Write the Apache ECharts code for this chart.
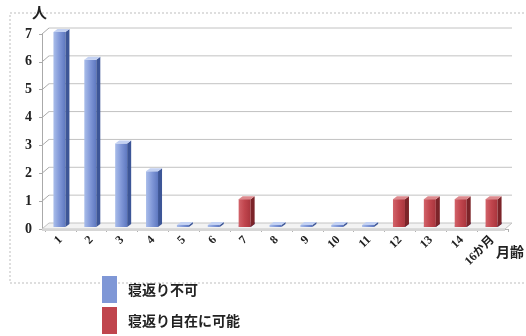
<!DOCTYPE html>
<html>
<head>
<meta charset="utf-8">
<script src="https://cdn.jsdelivr.net/npm/echarts@6/dist/echarts.min.js"></script>
<style>
  html, body { margin: 0; padding: 0; background: #ffffff; }
  #chart { width: 526px; height: 336px; }
</style>
</head>
<body>
<div id="chart"></div>
<script>
// Age in months and number of infants in each group
const categories = ['1', '2', '3', '4', '5', '6', '7', '8', '9', '10', '11', '12', '13', '14', '16か月'];
const cannotRoll = [7, 6, 3, 2, 0, 0, 0, 0, 0, 0, 0, 0, 0, 0, 0];
const canRoll    = [0, 0, 0, 0, 0, 0, 1, 0, 0, 0, 0, 1, 1, 1, 1];
const yTicks = [0, 1, 2, 3, 4, 5, 6, 7];

const NAME_BLUE = '寝返り不可';
const NAME_RED = '寝返り自在に可能';

const serif = "'Liberation Serif', 'DejaVu Serif', 'Noto Sans CJK JP', serif";
const cjk = "'Noto Sans CJK JP', sans-serif";

// depth of the back wall relative to the front plane
const DEPTH_X = 7, DEPTH_Y = 6;

const chart = echarts.init(document.getElementById('chart'), null, { renderer: 'canvas' });

// back-wall grid lines, their slanted tick connectors and the floor slab
function renderFrame(params, api) {
  const v = api.value(1);
  const cs = params.coordSys;
  const y = api.coord([0, v])[1];
  const left = cs.x - 3, right = cs.x + cs.width - 3;
  if (v === 0) {
    return {
      type: 'group',
      children: [
        {
          type: 'polygon',
          shape: { points: [[left, y], [right, y], [right + DEPTH_X, y - DEPTH_Y], [left + DEPTH_X, y - DEPTH_Y]] },
          style: { fill: '#f3f3f3', stroke: '#c4c4c4', lineWidth: 1 }
        },
        {
          type: 'rect',
          shape: { x: left, y: y, width: right - left, height: 2 },
          style: { fill: '#d6d6d6' }
        }
      ]
    };
  }
  return {
    type: 'group',
    children: [
      {
        type: 'line',
        shape: { x1: left, y1: y, x2: left + DEPTH_X, y2: y - DEPTH_Y },
        style: { stroke: '#aaaaaa', lineWidth: 1 }
      },
      {
        type: 'line',
        shape: { x1: left + DEPTH_X, y1: y - DEPTH_Y, x2: right + DEPTH_X, y2: y - DEPTH_Y },
        style: { stroke: '#c2c2c2', lineWidth: 1 }
      }
    ]
  };
}

// 3D-looking column: front face, right side and top face
function makeBarRenderer(c, drawFlat) {
  return function (params, api) {
    const i = api.value(0), top = api.value(1), base = api.value(2);
    const pTop = api.coord([i, top]);
    const pBase = api.coord([i, base]);
    const w = 12, dx = 4, dy = 3, lift = 2;
    const x0 = pTop[0] - w / 2 - 1, x1 = x0 + w;
    let yT = pTop[1] - lift;
    const yB = pBase[1] - lift;
    if (top - base === 0) {
      if (!drawFlat) return null;
      yT = yB - 2;
    }
    return {
      type: 'group',
      children: [
        {
          type: 'rect',
          shape: { x: x0, y: yT, width: w, height: yB - yT },
          style: {
            fill: new echarts.graphic.LinearGradient(0, 0, 1, 0, [
              { offset: 0, color: c.light },
              { offset: 0.5, color: c.mid },
              { offset: 1, color: c.dark }
            ])
          }
        },
        {
          type: 'polygon',
          shape: { points: [[x1, yT], [x1 + dx, yT - dy], [x1 + dx, yB - dy], [x1, yB]] },
          style: { fill: c.side }
        },
        {
          type: 'polygon',
          shape: { points: [[x0, yT], [x0 + dx, yT - dy], [x1 + dx, yT - dy], [x1, yT]] },
          style: { fill: c.top }
        }
      ]
    };
  };
}

const blueColors = { light: '#a9bdea', mid: '#8198d8', dark: '#5e78c0', side: '#3d5697', top: '#c3d1f2' };
const redColors  = { light: '#d2636a', mid: '#c0454d', dark: '#a9353d', side: '#7c2429', top: '#dd8a8e' };

const blueData = cannotRoll.map((v, i) => [i, v, 0]);
const redData = canRoll.map((v, i) => [i, cannotRoll[i] + v, cannotRoll[i]]);

const legendText = { fontFamily: cjk, fontWeight: 'bold', fontSize: 14, color: '#222222', padding: [0, 0, 0, 6] };

chart.setOption({
  backgroundColor: '#ffffff',
  animation: false,
  grid: { left: 45, right: 18, top: 34, bottom: 107 },
  graphic: [
    {
      type: 'rect',
      shape: { x: 10, y: 13, width: 530, height: 270 },
      style: { fill: 'none', stroke: '#bdbdbd', lineWidth: 1, lineDash: [2, 2] },
      z: -1
    },
    {
      type: 'text',
      left: 32, top: 5,
      style: { text: '人', font: 'bold 15px ' + cjk, fill: '#222222' }
    },
    {
      type: 'text',
      left: 496, top: 245,
      style: { text: '月齢', font: 'bold 14px ' + cjk, fill: '#222222' }
    }
  ],
  legend: [
    {
      left: 97, top: 271,
      itemWidth: 15, itemHeight: 27,
      icon: 'rect',
      textStyle: legendText,
      data: [NAME_BLUE]
    },
    {
      left: 97, top: 302,
      itemWidth: 15, itemHeight: 27,
      icon: 'rect',
      textStyle: legendText,
      data: [NAME_RED]
    }
  ],
  xAxis: {
    type: 'category',
    data: categories,
    boundaryGap: true,
    axisLine: { show: true, lineStyle: { color: '#b0b0b0' } },
    axisTick: { show: true, length: 3, lineStyle: { color: '#b0b0b0' } },
    axisLabel: {
      rotate: 45,
      margin: 9,
      interval: 0,
      fontFamily: serif,
      fontWeight: 'bold',
      fontSize: 12,
      color: '#222222'
    },
    splitLine: { show: false }
  },
  yAxis: {
    type: 'value',
    min: 0,
    max: 7,
    interval: 1,
    offset: 3,
    axisLine: { show: true, lineStyle: { color: '#aaaaaa' } },
    axisTick: { show: true, length: 3, lineStyle: { color: '#aaaaaa' } },
    axisLabel: { margin: 10, fontFamily: serif, fontWeight: 'bold', fontSize: 14, color: '#222222' },
    splitLine: { show: false }
  },
  series: [
    {
      type: 'custom',
      name: 'frame',
      z: 1,
      silent: true,
      renderItem: renderFrame,
      encode: { x: 0, y: 1 },
      data: yTicks.map(v => [0, v])
    },
    {
      type: 'custom',
      name: NAME_BLUE,
      z: 2,
      itemStyle: { color: '#7f97d6' },
      renderItem: makeBarRenderer(blueColors, true),
      encode: { x: 0, y: 1 },
      data: blueData
    },
    {
      type: 'custom',
      name: NAME_RED,
      z: 3,
      itemStyle: { color: '#c0454d' },
      renderItem: makeBarRenderer(redColors, false),
      encode: { x: 0, y: 1 },
      data: redData
    }
  ]
});
</script>
</body>
</html>
